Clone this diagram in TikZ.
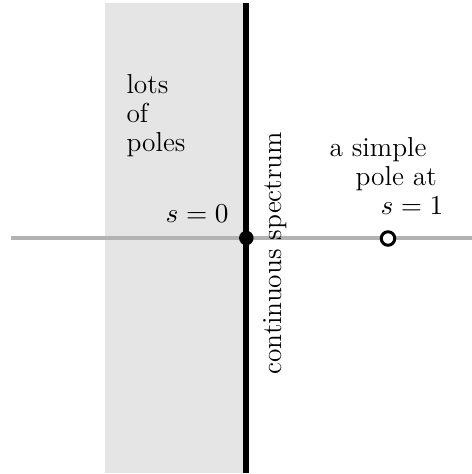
\documentclass[tikz,border=0pt]{standalone}
\usepackage{amsmath}
\usepackage{tikz}
\usetikzlibrary{positioning}

\begin{document}
\begin{tikzpicture}[x=0.4bp,y=-0.4bp,
  band/.style={fill=gray!20, draw=none},
  axis/.style={draw=gray!60, line width=1.3bp},
  spectrum/.style={draw=black, line width=2.4bp},
  note/.style={inner sep=0pt, align=left, font=\fontsize{11}{11.8}\selectfont},
  pole/.style={circle, draw=black, line width=1.2bp, fill=white, inner sep=0pt, minimum size=5.4bp},
  origin/.style={circle, fill=black, inner sep=0pt, minimum size=5.8bp}]
  \useasboundingbox (0,0) rectangle (472,474);
  \fill[band] (105,3) rectangle (243.3,472.7);
  \draw[axis] (11,238) -- (472,238);
  \draw[spectrum] (246.3,3) -- (246.3,472.7);

  \node[origin] (zero) at (246.3,238) {};
  \node[pole] (one) at (388,238.5) {};

  \node[note, anchor=base west] (lots) at (126,152) {lots\\of\\poles};
  \node[note, anchor=base east] (szero) at (229,223) {$s=0$};
  \node[note, anchor=base west] (simple) at (329,215)
    {a simple\\\hspace{10.4bp}pole at\\\hspace{20.4bp}$s=1$};
  \node[note, anchor=base west, rotate=90] (cont) at (281.7,375) {continuous spectrum};
\end{tikzpicture}
\end{document}
